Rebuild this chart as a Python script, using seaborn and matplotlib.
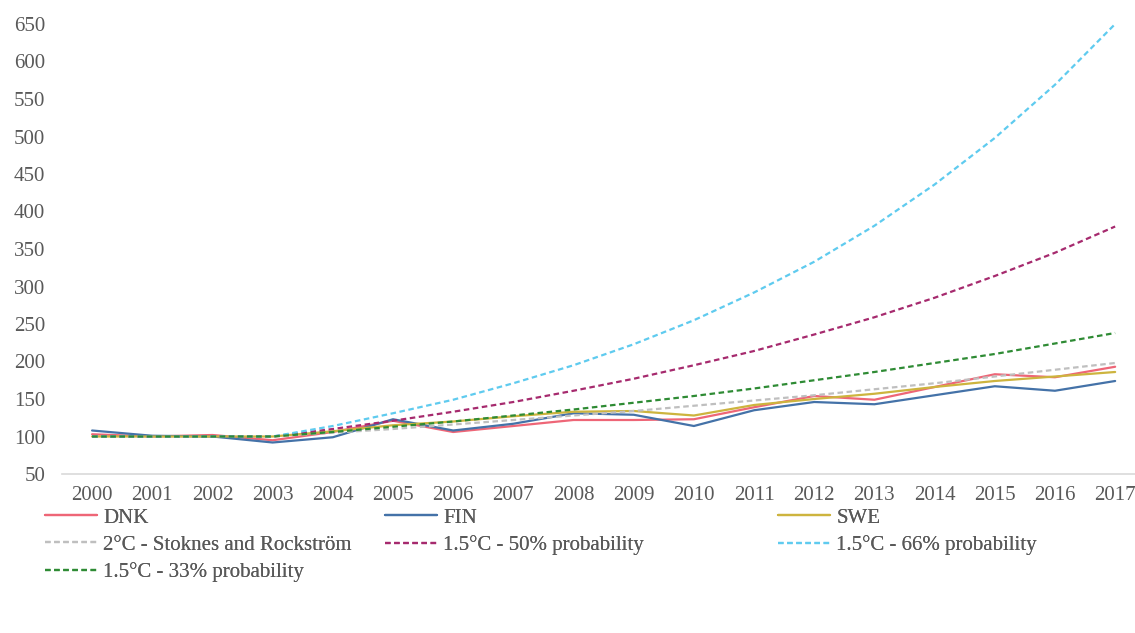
import matplotlib
matplotlib.use("Agg")
import matplotlib.pyplot as plt
import seaborn as sns
import pandas as pd

years = [str(y) for y in range(2000, 2018)]

dnk = [103, 100, 102, 95, 106, 121, 106, 114, 122, 122, 123, 139, 154, 149, 166, 183, 179, 193]
fin = [108, 101, 100, 92, 99, 123, 108, 117, 131, 129, 114, 135, 146, 143, 155, 167, 161, 174]
swe = [100, 100, 100, 100, 107, 115, 120, 127, 133, 134, 128, 142, 150, 157, 166, 174, 180, 186]
stoknes = [100, 100, 100, 100, 105, 110, 116, 122, 128, 134, 141, 148, 155, 163, 171, 180, 189, 198]
p50 = [100, 100, 100, 100, 110, 121, 133, 146, 161, 177, 195, 214, 236, 259, 285, 314, 345, 380]
p66 = [100, 100, 100, 100, 114, 131, 149, 171, 195, 223, 255, 292, 333, 381, 436, 498, 569, 650]
p33 = [100, 100, 100, 100, 106, 113, 120, 128, 136, 145, 154, 164, 175, 186, 198, 210, 224, 238]

series = [
    ("DNK", dnk, "#EE6677", "-"),
    ("FIN", fin, "#4472A8", "-"),
    ("SWE", swe, "#CDB43E", "-"),
    ("2°C - Stoknes and Rockström", stoknes, "#BFBFBF", "--"),
    ("1.5°C - 50% probability", p50, "#A62A6E", "--"),
    ("1.5°C - 66% probability", p66, "#5FCBEF", "--"),
    ("1.5°C - 33% probability", p33, "#2E8B34", "--"),
]

sns.set_theme(style="white")
plt.rcParams["font.family"] = ["Liberation Serif", "DejaVu Serif"]
txt = "#595959"
fs = 15

fig = plt.figure(figsize=(11.35, 6.33), dpi=100)
ax = fig.add_axes([62 / 1135, 1 - 474 / 633, 1 - 62 / 1135, 450 / 633])

handles = {}
for name, vals, col, ls in series:
    df = pd.DataFrame({"x": range(len(years)), "y": vals})
    sns.lineplot(data=df, x="x", y="y", ax=ax, color=col, linewidth=1.6,
                 linestyle=ls, label=name, legend=False)
    handles[name] = ax.lines[-1]
    if ls == "--":
        ax.lines[-1].set_dashes((2.5, 1.6))

ax.set_xlim(-0.5, 17.33)
ax.set_ylim(50, 650)
ax.set_yticks(range(50, 651, 50))
ax.set_xticks(range(len(years)))
ax.set_xticklabels(years)
ax.set_xlabel("")
ax.set_ylabel("")
for s in ["top", "right", "left"]:
    ax.spines[s].set_visible(False)
ax.spines["bottom"].set_color("#D9D9D9")
ax.spines["bottom"].set_linewidth(1.2)
ax.tick_params(axis="both", length=0, labelsize=fs, colors=txt)
ax.tick_params(axis="x", pad=9)
ax.tick_params(axis="y", pad=12)

cols = [
    (["DNK", "2°C - Stoknes and Rockström", "1.5°C - 33% probability"], 45),
    (["FIN", "1.5°C - 50% probability"], 385),
    (["SWE", "1.5°C - 66% probability"], 778),
]
for names, x0 in cols:
    leg = fig.legend([handles[n] for n in names], names, loc="upper left",
                     bbox_to_anchor=(x0 / 1135, 1 - 508 / 633), frameon=False,
                     fontsize=fs, handlelength=2.5, handletextpad=0.3,
                     labelspacing=0.36, borderaxespad=0, borderpad=0)
    for t in leg.get_texts():
        t.set_color(txt)
    fig.add_artist(leg)

fig.savefig("out.png", dpi=100)
